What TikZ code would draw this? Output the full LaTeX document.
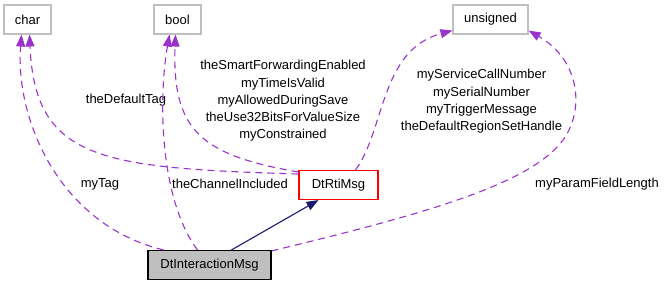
\documentclass[tikz,border=0pt]{standalone}
\usepackage{fontspec}
\setmainfont{Liberation Sans}
\usepackage{xcolor}
\definecolor{edgepurple}{HTML}{9A32CD}
\definecolor{inhnavy}{HTML}{191970}
\definecolor{boxgray}{HTML}{BFBFBF}
\usepackage{tikz}
\usetikzlibrary{arrows.meta}

\begin{document}
\begin{tikzpicture}[x=1pt,y=-1pt,
  cls/.style={draw=boxgray,line width=1.1pt,minimum height=29pt,inner sep=0pt,font=\fontsize{13}{17.3}\selectfont},
  lbl/.style={align=center,inner sep=0pt,font=\fontsize{13}{17.3}\selectfont},
  edge/.style={draw=edgepurple,line width=1.1pt,dash pattern=on 7pt off 5pt,-{Triangle[length=12pt,width=9pt]}},
  inh/.style={draw=inhnavy,line width=1.1pt,-{Triangle[length=12pt,width=9pt]}}]
\useasboundingbox (0,0) rectangle (665,285);
\node[cls,minimum width=47pt] (char) at (27.5,19.5) {char};
\node[cls,minimum width=47pt] (bool) at (177.5,19.5) {bool};
\node[cls,minimum width=75pt] (unsigned) at (490.5,19.5) {unsigned};
\node[cls,draw=red,minimum width=79pt] (dtrti) at (338.5,185) {DtRtiMsg};
\node[cls,draw=black,fill=boxgray,minimum width=123pt] (dtint) at (209.5,265) {DtInteractionMsg};
\coordinate (pfl) at (563,140);
\node[lbl] (ltag) at (126,100) {theDefaultTag};
\node[lbl] (lbool) at (283,101) {theSmartForwardingEnabled\\myTimeIsValid\\myAllowedDuringSave\\theUse32BitsForValueSize\\myConstrained};
\node[lbl] (lunsigned) at (481.5,101.5) {myServiceCallNumber\\mySerialNumber\\myTriggerMessage\\theDefaultRegionSetHandle};
\node[lbl] (lmytag) at (100,184) {myTag};
\node[lbl] (lchannel) at (230,184) {theChannelIncluded};
\node[lbl] (lparam) at (597,184) {myParamFieldLength};
\draw[edge] ([xshift=-46pt]dtint.north) .. controls (60,225) and (15,120) .. ([xshift=-6pt]char.south);
\draw[edge] ([yshift=11pt]dtrti.west) .. controls (100,168) and (35,160) .. ([xshift=2pt]char.south);
\draw[edge] ([yshift=13pt]dtrti.west) .. controls (200,155) and (172,130) .. ([xshift=-2pt]bool.south);
\draw[edge] ([xshift=-12pt]dtint.north) .. controls (160,200) and (158,100) .. ([xshift=-8pt]bool.south);
\draw[edge] ([xshift=17pt]dtrti.north) .. controls (385,130) and (380,50) .. ([yshift=4pt]unsigned.south west);
\draw[edge] ([yshift=-1pt]dtint.north east) .. controls (420,215) and (530,185) .. (pfl)
  .. controls (585,110) and (580,60) .. ([yshift=4pt]unsigned.south east);
\draw[inh] ([xshift=22pt]dtint.north) -- ([xshift=-20pt]dtrti.south);
\end{tikzpicture}
\end{document}
